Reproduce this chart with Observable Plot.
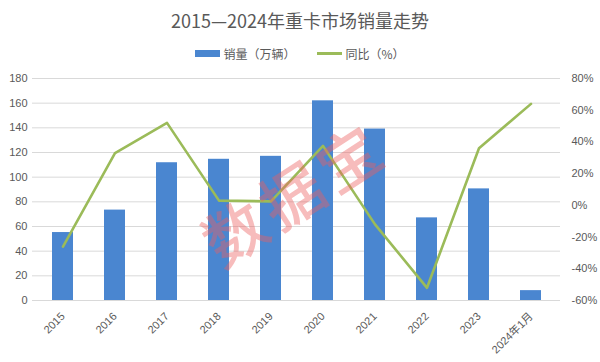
<!DOCTYPE html>
<html>
<head>
<meta charset="utf-8">
<script src="https://cdn.jsdelivr.net/npm/d3@7"></script>
<script src="https://cdn.jsdelivr.net/npm/@observablehq/plot@0.6"></script>
<style>
  html, body { margin: 0; padding: 0; background: #fff; }
  #wrap { position: relative; width: 600px; height: 362px; overflow: hidden; font-family: "Noto Sans CJK SC", "Noto Sans", sans-serif; }
  #title { height: 38px; line-height: 40px; text-align: center; font-size: 18px; color: #595959; }
  #legend { height: 30px; display: flex; justify-content: center; align-items: center; font-size: 12px; color: #595959; gap: 22px; }
  .item { display: flex; align-items: center; gap: 3px; }
  .sw-bar { width: 25px; height: 7px; background: #4a86d0; }
  .sw-line { width: 25px; height: 3px; background: #9bbb59; }
  #chart svg { display: block; }
  #wm { position: absolute; left: 290px; top: 193px; font-size: 62px; font-weight: 500; line-height: 1; white-space: nowrap; color: rgba(235, 95, 95, 0.42); transform: translate(-50%, -50%) rotate(-33deg); letter-spacing: 6px; padding-left: 6px; pointer-events: none; font-family: "Noto Sans CJK SC", sans-serif; }
</style>
</head>
<body>
<div id="wrap">
  <div id="title">2015—2024年重卡市场销量走势</div>
  <div id="legend">
    <div class="item"><div class="sw-bar"></div><span>销量（万辆）</span></div>
    <div class="item"><div class="sw-line"></div><span>同比（%）</span></div>
  </div>
  <div id="chart"></div>
  <div id="wm">数据宝</div>
</div>
<script>
const categories = ["2015", "2016", "2017", "2018", "2019", "2020", "2021", "2022", "2023", "2024年1月"];
const sales = [55.1, 73.3, 111.7, 114.5, 116.9, 161.9, 139.0, 67.0, 90.5, 8.0];
const yoy = [-26.0, 33.0, 52.0, 3.0, 2.5, 37.5, -12.0, -52.0, 36.0, 64.0];
const leftTicks = [0, 20, 40, 60, 80, 100, 120, 140, 160, 180];
const rightTicks = [-60, -40, -20, 0, 20, 40, 60, 80];

const leftMax = 180, pctMin = -60, pctMax = 80;
const toY = p => (p - pctMin) / (pctMax - pctMin) * leftMax;
const fromY = y => Math.round(y / leftMax * (pctMax - pctMin) + pctMin);

const data = categories.map((c, i) => ({cat: c, sales: sales[i], yoy: yoy[i]}));

const chart = Plot.plot({
  width: 600,
  height: 294,
  marginTop: 10,
  marginBottom: 62,
  marginLeft: 32,
  marginRight: 40,
  style: {fontFamily: "'Liberation Sans', 'Noto Sans CJK SC', sans-serif", fontSize: "11px", color: "#595959", background: "transparent"},
  x: {domain: categories, paddingInner: 0.6, paddingOuter: 0.3, label: null, axis: null},
  y: {domain: [0, leftMax], label: null, axis: null},
  marks: [
    Plot.gridY(leftTicks, {stroke: "#d9d9d9", strokeOpacity: 1}),
    Plot.barY(data, {x: "cat", y: "sales", fill: "#4a86d0"}),
    Plot.line(data, {x: "cat", y: d => toY(d.yoy), stroke: "#9bbb59", strokeWidth: 2.6}),
    Plot.axisY(leftTicks, {anchor: "left", tickSize: 0, tickPadding: 5, label: null, fill: "#595959"}),
    Plot.axisY(rightTicks.map(toY), {anchor: "right", tickSize: 0, tickPadding: 11, label: null, tickFormat: d => fromY(d) + "%", fill: "#595959"}),
    Plot.text(categories, {x: d => d, frameAnchor: "bottom", rotate: -45, textAnchor: "end", lineAnchor: "middle", dy: 14, dx: 0, fill: "#595959", fontSize: 11})
  ]
});
document.getElementById("chart").appendChild(chart);
</script>
</body>
</html>
